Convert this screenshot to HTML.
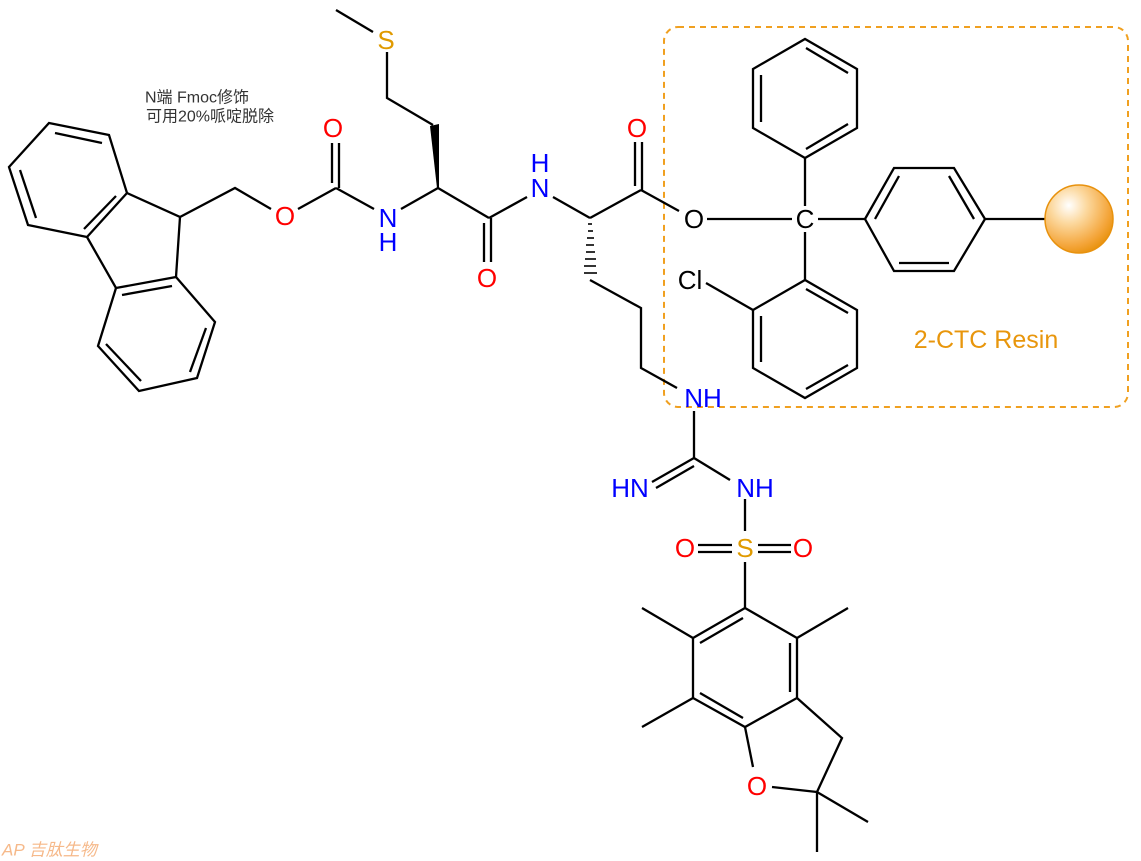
<!DOCTYPE html>
<html><head><meta charset="utf-8">
<style>
html,body{margin:0;padding:0;background:#fff;}
svg{display:block;}
.b{stroke:#000;stroke-width:2.3;fill:none;stroke-linecap:butt;}
text{font-family:"Liberation Sans",sans-serif;font-size:26px;text-anchor:middle;dominant-baseline:central;}
.N{fill:#0000ff}.O{fill:#ff0000}.S{fill:#e09a00}.K{fill:#000}
</style></head><body>
<svg width="1141" height="861" viewBox="0 0 1141 861" xmlns="http://www.w3.org/2000/svg">
<defs>
<radialGradient id="g" cx="0.35" cy="0.3" r="0.75">
<stop offset="0" stop-color="#ffffff"/>
<stop offset="0.35" stop-color="#fcd9a0"/>
<stop offset="0.8" stop-color="#f4a53a"/>
<stop offset="1" stop-color="#e8920e"/>
</radialGradient>
</defs>
<rect x="664" y="27" width="464" height="380" rx="14" fill="none" stroke="#f0a020" stroke-width="2" stroke-dasharray="6,5"/>
<g class="b">
<polyline points="127,193 109,135 49,123 9,167 28,225 87,237 127,193"/>
<line x1="102" y1="143" x2="55" y2="133"/>
<line x1="20" y1="170" x2="36" y2="218"/>
<line x1="116" y1="196" x2="84" y2="229"/>
<polyline points="127,193 180,217 176,277 116,288 87,237"/>
<polyline points="176,277 215,322 197,378 139,391 98,346 116,288"/>
<line x1="122" y1="295" x2="172" y2="286"/>
<line x1="206" y1="328" x2="190" y2="372"/>
<line x1="141" y1="381" x2="106" y2="344"/>
<polyline points="180,217 235,188 271,209"/>
<line x1="298" y1="209" x2="336" y2="188"/>
<line x1="336" y1="188" x2="374" y2="209"/>
<line x1="332" y1="143" x2="332" y2="183"/>
<line x1="339" y1="143" x2="339" y2="188"/>
<line x1="401" y1="209" x2="438" y2="188"/>
<polyline points="336,10 373,32"/>
<polyline points="387,52 387,98 433,125"/>
<line x1="438" y1="188" x2="489" y2="218"/>
<line x1="484" y1="223" x2="484" y2="262"/>
<line x1="491" y1="218" x2="491" y2="262"/>
<line x1="489" y1="218" x2="527" y2="197"/>
<line x1="553" y1="197" x2="590" y2="218"/>
<line x1="590" y1="218" x2="641" y2="190"/>
<line x1="635" y1="142" x2="635" y2="186"/>
<line x1="642" y1="142" x2="642" y2="190"/>
<line x1="641" y1="190" x2="679" y2="211"/>
<polyline points="590,280 641,308 641,368 677,388"/>
<line x1="694" y1="411" x2="694" y2="458"/>
<line x1="707" y1="219" x2="792" y2="219"/>
<line x1="805" y1="206" x2="805" y2="158"/>
<polygon points="805,158 753,128 753,69 805,39 857,69 857,128"/>
<line x1="806" y1="48" x2="848" y2="73"/>
<line x1="761" y1="75" x2="761" y2="122"/>
<line x1="806" y1="149" x2="848" y2="124"/>
<line x1="805" y1="232" x2="805" y2="280"/>
<polygon points="805,280 753,310 753,368 805,398 857,368 857,310"/>
<line x1="806" y1="289" x2="848" y2="313"/>
<line x1="761" y1="316" x2="761" y2="362"/>
<line x1="806" y1="389" x2="848" y2="365"/>
<line x1="706" y1="283" x2="753" y2="310"/>
<line x1="818" y1="219" x2="865" y2="219"/>
<polygon points="865,219 894,168 954,168 985,219 954,271 894,271"/>
<line x1="875" y1="219" x2="899" y2="176"/>
<line x1="949" y1="176" x2="974" y2="219"/>
<line x1="899" y1="263" x2="949" y2="263"/>
<line x1="985" y1="219" x2="1045" y2="219"/>
<line x1="694" y1="458" x2="652" y2="482"/>
<line x1="694" y1="466" x2="656" y2="488"/>
<line x1="694" y1="458" x2="730" y2="480"/>
<line x1="745" y1="499" x2="745" y2="531"/>
<line x1="698" y1="545" x2="732" y2="545"/>
<line x1="698" y1="552" x2="732" y2="552"/>
<line x1="758" y1="545" x2="791" y2="545"/>
<line x1="758" y1="552" x2="791" y2="552"/>
<line x1="745" y1="562" x2="745" y2="608"/>
<polyline points="745,608 797,638 797,698 745,727 693,698 693,638 745,608"/>
<line x1="700" y1="643" x2="743" y2="618"/>
<line x1="790" y1="643" x2="790" y2="692"/>
<line x1="700" y1="693" x2="743" y2="718"/>
<line x1="693" y1="638" x2="642" y2="608"/>
<line x1="797" y1="638" x2="848" y2="608"/>
<line x1="693" y1="698" x2="642" y2="727"/>
<polyline points="797,698 842,738 817,792"/>
<line x1="745" y1="727" x2="753" y2="767"/>
<line x1="772" y1="787" x2="817" y2="792"/>
<line x1="817" y1="792" x2="868" y2="822"/>
<line x1="817" y1="792" x2="817" y2="852"/>
</g>
<polygon points="430,126 439,124 439,188 437,188" fill="#000"/>
<g stroke="#000" stroke-width="1.6">
<line x1="588" y1="224" x2="592" y2="224"/>
<line x1="588" y1="231" x2="593" y2="231"/>
<line x1="587" y1="238" x2="594" y2="238"/>
<line x1="586" y1="245" x2="594" y2="245"/>
<line x1="586" y1="252" x2="595" y2="252"/>
<line x1="585" y1="259" x2="596" y2="259"/>
<line x1="584" y1="266" x2="596" y2="266"/>
<line x1="584" y1="273" x2="597" y2="273"/>
</g>
<circle cx="1079" cy="219" r="34" fill="url(#g)" stroke="#e8920e" stroke-width="1.5"/>
<text x="386" y="40" class="S">S</text>
<text x="333" y="128" class="O">O</text>
<text x="285" y="216" class="O">O</text>
<text x="388" y="218" class="N">N</text>
<text x="388" y="242" class="N">H</text>
<text x="487" y="278" class="O">O</text>
<text x="540" y="188" class="N">N</text>
<text x="540" y="163" class="N">H</text>
<text x="637" y="128" class="O">O</text>
<text x="694" y="219" class="K">O</text>
<text x="805" y="219" class="K">C</text>
<text x="690" y="280" class="K">Cl</text>
<text x="703" y="398" class="N">NH</text>
<text x="630" y="488" class="N">HN</text>
<text x="755" y="488" class="N">NH</text>
<text x="745" y="548" class="S">S</text>
<text x="685" y="548" class="O">O</text>
<text x="803" y="548" class="O">O</text>
<text x="757" y="786" class="O">O</text>
<text x="986" y="340" style="fill:#e8960c;font-size:25px">2-CTC Resin</text>
<text x="145" y="98" style="font-family:'Liberation Sans','Noto Sans CJK SC',sans-serif;font-size:16px;text-anchor:start;fill:#333">N端 Fmoc修饰</text>
<text x="146" y="117" style="font-family:'Liberation Sans','Noto Sans CJK SC',sans-serif;font-size:16px;text-anchor:start;fill:#333">可用20%哌啶脱除</text>
<text x="2" y="850" style="font-family:'Liberation Sans','Noto Sans CJK SC',sans-serif;font-size:17px;text-anchor:start;fill:#f6b98a;font-style:italic">AP 吉肽生物</text>
</svg>
</body></html>
